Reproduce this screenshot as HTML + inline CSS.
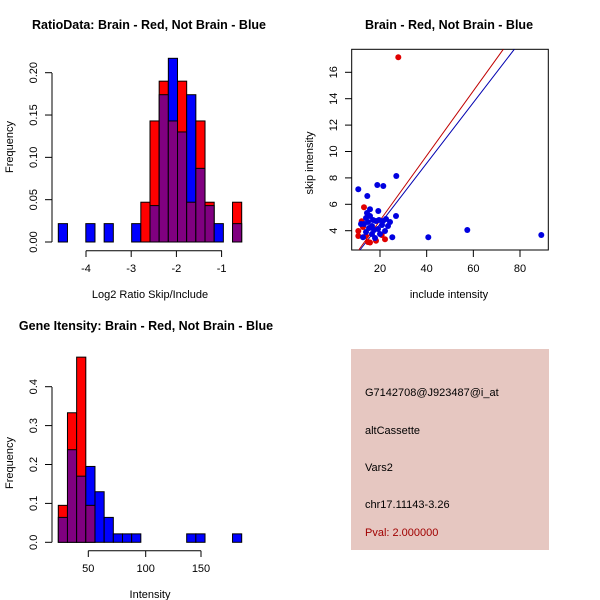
<!DOCTYPE html>
<html><head><meta charset="utf-8"><style>
html,body{margin:0;padding:0;background:#fff}
svg{display:block;font-family:"Liberation Sans",Arial,sans-serif}
</style></head><body>
<svg id="s" width="600" height="600" viewBox="0 0 600 600" xmlns="http://www.w3.org/2000/svg">
<rect width="600" height="600" fill="#fff"/>
<g font-weight="bold" font-size="12.5" text-anchor="middle">
<text x="149" y="29">RatioData: Brain - Red, Not Brain - Blue</text>
<text x="449" y="29">Brain - Red, Not Brain - Blue</text>
<text x="146" y="330">Gene Itensity: Brain - Red, Not Brain - Blue</text>
</g>
<g font-size="11" text-anchor="middle">
<text x="150" y="298">Log2 Ratio Skip/Include</text>
<text x="449" y="298">include intensity</text>
<text x="150" y="598">Intensity</text>
<text transform="translate(13,147) rotate(-90)">Frequency</text>
<text transform="translate(13,463) rotate(-90)">Frequency</text>
<text transform="translate(313,163) rotate(-90)">skip intensity</text>
</g>
<g id="g"></g>
<rect x="351" y="349" width="198" height="201" fill="#e6c7c1"/>
<g font-size="11">
<text x="365" y="396">G7142708@J923487@i_at</text>
<text x="365" y="434">altCassette</text>
<text x="365" y="471">Vars2</text>
<text x="365" y="508">chr17.11143-3.26</text>
<text x="365" y="536" fill="#a00000">Pval: 2.000000</text>
</g>
</svg>
<script>
const g=document.getElementById('g');let h='';
function rect(x,y,w,hh,c){h+=`<rect x="${x}" y="${y}" width="${w}" height="${hh}" fill="${c}" stroke="#000" stroke-width="1"/>`;}
function hist(x0,bw,y0,scale,red,blue){
 for(let i=0;i<red.length;i++){const r=red[i],b=blue[i];const x=x0+i*bw;
  if(r===0&&b===0)continue;
  const mx=Math.max(r,b),mn=Math.min(r,b);
  rect(x,y0-mx*scale,bw,mx*scale,r>=b?'#ff0000':'#0000ff');
  if(mn>0)rect(x,y0-mn*scale,bw,mn*scale,'#800080');}
}
let R=[0,0,0,0,0,0,0,0,0,.047,.143,.19,.143,.19,.047,.143,.047,0,0,.047];
let B=[.0217,0,0,.0217,0,.0217,0,0,.0217,0,.043,.174,.217,.13,.174,.087,.043,.0217,0,.0217];
hist(58.3,9.17,242,846.5,R,B);
R=[.095,.333,.476,.095,0,0,0,0,0,0,0,0,0,0,0,0,0,0,0,0];
B=[.064,.238,.17,.195,.13,.064,.0217,.0217,.0217,0,0,0,0,0,.0217,.0217,0,0,0,.0217];
hist(58.3,9.17,542.3,389,R,B);
function line(a,b,c,d,col,w){h+=`<line x1="${a}" y1="${b}" x2="${c}" y2="${d}" stroke="${col||'#000'}" stroke-width="${w||1}"/>`;}
function txt(x,y,t,rot){h+= rot?`<text font-size="11" text-anchor="middle" transform="translate(${x},${y}) rotate(-90)">${t}</text>`:`<text font-size="11" text-anchor="middle" x="${x}" y="${y}">${t}</text>`;}
line(52,73,52,242);
[[0,'0.00'],[.05,'0.05'],[.1,'0.10'],[.15,'0.15'],[.2,'0.20']].forEach(([v,l])=>{const y=242-v*846.5;line(45,y,52,y);txt(37,y,l,1);});
line(86,250.7,222,250.7);
[[-4,86],[-3,131.2],[-2,176.4],[-1,221.6]].forEach(([v,x])=>{line(x,250.7,x,257);txt(x,272,v);});
line(52,387,52,542.3);
[0,.1,.2,.3,.4].forEach(v=>{const y=542.3-v*389;line(45,y,52,y);txt(37,y,v.toFixed(1),1);});
line(88.3,550.7,201,550.7);
[[50,88.3],[100,145.7],[150,201]].forEach(([v,x])=>{line(x,550.7,x,557);txt(x,572,v);});
h+=`<rect x="351.7" y="49.3" width="196.6" height="200.7" fill="none" stroke="#000"/>`;
[20,40,60,80].forEach((v,i)=>{const x=380+i*46.67;line(x,250,x,257);txt(x,272,v);});
[4,6,8,10,12,14,16].forEach(v=>{const y=230.7-(v-4)*13.2;line(345,y,351.7,y);txt(337,y,v,1);});
line(358.7,250,503.3,49.3,'#c00000');line(360,250,514.3,49.3,'#0000b0');
const red=[[398.3,57.3],[358.3,231],[358.3,236],[364,207.3],[361.7,221.3],[368,242],[376,240.7],[385,239.3],[381.7,235],[366,236],[370,242.5],[363,227]];
const blue=[[358.3,189.3],[377.3,185],[383.3,186],[396.3,176],[367.3,196],[370,209.3],[378.3,211],[396,216],[428.3,237.3],[467.3,230],[541.3,235],[392.3,237.3],[363,237.3],[364,224],[366,218],[368,222],[369,228],[372,226],[374,230],[376,221],[378,229],[380,234],[382,225],[383,221],[386,219],[388,226],[390,222],[372,234],[366,232],[370,216],[375,238],[379,220],[385,231],[361,224],[367,213],[373,220]];
red.forEach(([x,y])=>h+=`<circle cx="${x}" cy="${y}" r="3" fill="#e00000"/>`);
blue.forEach(([x,y])=>h+=`<circle cx="${x}" cy="${y}" r="3" fill="#0000e0"/>`);
g.innerHTML=h;
</script>
</body></html>
